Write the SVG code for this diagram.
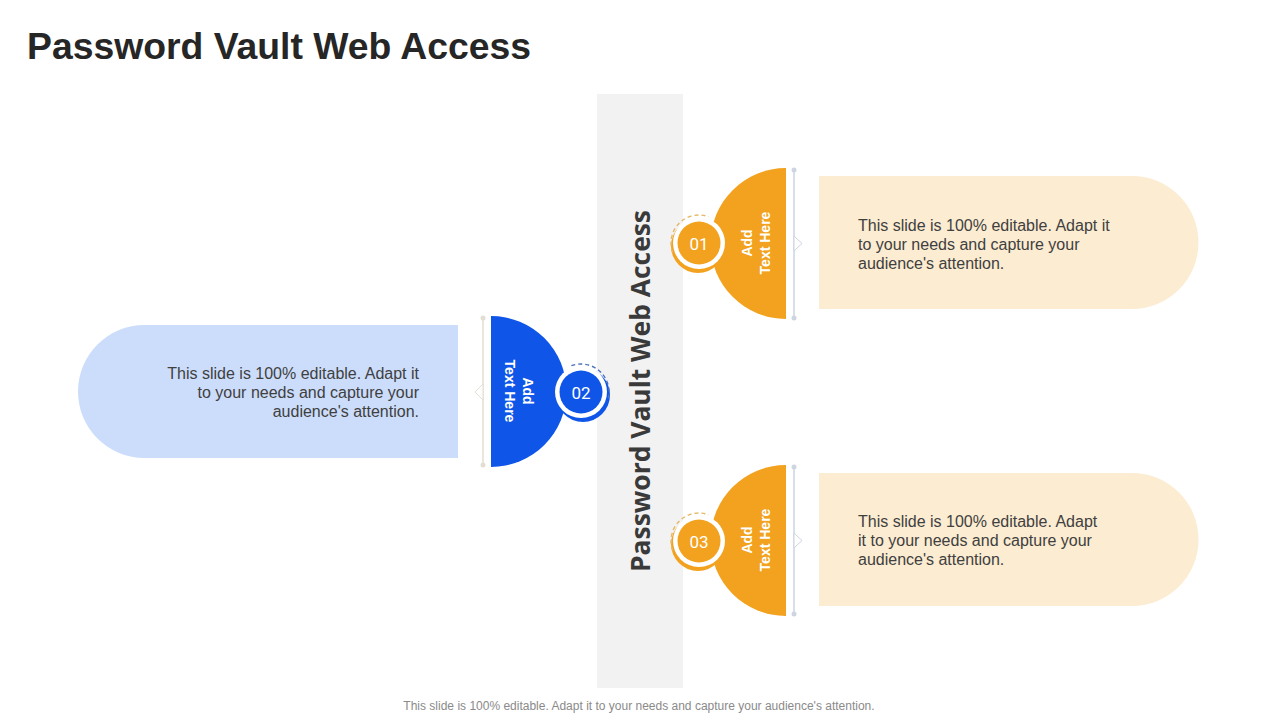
<svg xmlns="http://www.w3.org/2000/svg" width="1280" height="720" viewBox="0 0 1280 720">
<style>
.title{font-family:"Liberation Sans",Arial,sans-serif;font-weight:bold;font-size:37px;fill:#262626}
.body{font-family:"Liberation Sans",Arial,sans-serif;font-size:16px;fill:#404040}
.lbl{font-family:"Liberation Sans",Arial,sans-serif;font-weight:bold;font-size:14px;fill:#ffffff;text-anchor:middle}
.num{font-family:Roboto,"Liberation Sans",sans-serif;font-size:17px;fill:#ffffff;text-anchor:middle}
.foot{font-family:"Liberation Sans",Arial,sans-serif;font-size:12px;fill:#8a8a8a;text-anchor:middle}
.vt{font-family:"Open Sans","Liberation Sans",sans-serif;font-weight:bold;font-size:26px;fill:#3a3a3a;text-anchor:middle}
.or{fill:#F2A21F}
.bl{fill:#0F56E8}
.orbox{fill:#FCECD1}
.blbox{fill:#CCDDFB}
.lineo{stroke:#CDD5E2;stroke-width:1.5;fill:none}
.lineb{stroke:#E2DED2;stroke-width:1.5;fill:none}
.dash-o{fill:none;stroke:#E5B866;stroke-width:1.4;stroke-dasharray:4 3}
.dash-b{fill:none;stroke:#4A70BE;stroke-width:1.4;stroke-dasharray:4 3}
</style>

<rect width="1280" height="720" fill="#ffffff"/>
<text class="title" x="27" y="59" textLength="504" lengthAdjust="spacingAndGlyphs">Password Vault Web Access</text>

<g id="center-bar">
  <rect x="597" y="94" width="86" height="594" fill="#F2F2F2"/>
  <text class="vt" transform="translate(650,391) rotate(-90)" x="0" y="0" textLength="362" lengthAdjust="spacingAndGlyphs">Password Vault Web Access</text>
</g>

<g id="connectors">
  <!-- item 1 -->
  <line class="lineo" x1="794" y1="170" x2="794" y2="318"/>
  <circle cx="794" cy="170" r="2.5" fill="#CDD5E2"/>
  <circle cx="794" cy="318" r="2.5" fill="#CDD5E2"/>
  <polygon points="794,236 802,243.5 794,251" fill="#ffffff" stroke="#CDD5E2" stroke-width="1"/>
  <!-- item 2 -->
  <line class="lineb" x1="483" y1="318" x2="483" y2="465"/>
  <circle cx="483" cy="318" r="2.5" fill="#E2DED2"/>
  <circle cx="483" cy="465" r="2.5" fill="#E2DED2"/>
  <polygon points="483,384 475,392 483,400" fill="#ffffff" stroke="#E2DED2" stroke-width="1"/>
  <!-- item 3 -->
  <line class="lineo" x1="794" y1="467" x2="794" y2="614"/>
  <circle cx="794" cy="467" r="2.5" fill="#CDD5E2"/>
  <circle cx="794" cy="614" r="2.5" fill="#CDD5E2"/>
  <polygon points="794,533 802,540.5 794,548" fill="#ffffff" stroke="#CDD5E2" stroke-width="1"/>
</g>

<g id="item-01">
  <path class="orbox" d="M819,176 H1132 A66.5,66.5 0 0 1 1132,309 H819 Z"/>
  <path class="or" d="M786,168 A75.5,75.5 0 0 0 786,319 Z"/>
  <circle class="or" cx="698" cy="246" r="27"/>
  <circle cx="699" cy="243" r="26" fill="#ffffff"/>
  <circle class="or" cx="699" cy="243" r="21.5"/>
  <path class="dash-o" d="M672.7,252.6 A28,28 0 0 1 708.6,216.7"/>
  <text class="num" x="699" y="249.5">01</text>
  <g transform="translate(752,243) rotate(-90)">
    <text class="lbl" x="0" y="0">Add</text>
    <text class="lbl" x="0" y="18">Text Here</text>
  </g>
  <text class="body" x="858" y="231">This slide is 100% editable. Adapt it</text>
  <text class="body" x="858" y="250">to your needs and capture your</text>
  <text class="body" x="858" y="269">audience's attention.</text>
</g>

<g id="item-02">
  <path class="blbox" d="M458,325 H144.5 A66.5,66.5 0 0 0 144.5,458 H458 Z"/>
  <path class="bl" d="M491,316 A75.5,75.5 0 0 1 491,467 Z"/>
  <circle class="bl" cx="583" cy="395" r="27"/>
  <circle cx="581" cy="392" r="26" fill="#ffffff"/>
  <circle class="bl" cx="581" cy="392" r="21.5"/>
  <path class="dash-b" d="M571.4,365.7 A28,28 0 0 1 607.3,401.6"/>
  <text class="num" x="581" y="398.5">02</text>
  <g transform="translate(523,391) rotate(90)">
    <text class="lbl" x="0" y="0">Add</text>
    <text class="lbl" x="0" y="18">Text Here</text>
  </g>
  <text class="body" x="419" y="379" text-anchor="end">This slide is 100% editable. Adapt it</text>
  <text class="body" x="419" y="398" text-anchor="end">to your needs and capture your</text>
  <text class="body" x="419" y="417" text-anchor="end">audience's attention.</text>
</g>

<g id="item-03">
  <path class="orbox" d="M819,473 H1132 A66.5,66.5 0 0 1 1132,606 H819 Z"/>
  <path class="or" d="M786,465 A75.5,75.5 0 0 0 786,616 Z"/>
  <circle class="or" cx="698" cy="544" r="27"/>
  <circle cx="699" cy="541" r="26" fill="#ffffff"/>
  <circle class="or" cx="699" cy="541" r="21.5"/>
  <path class="dash-o" d="M672.7,550.6 A28,28 0 0 1 708.6,514.7"/>
  <text class="num" x="699" y="547.5">03</text>
  <g transform="translate(752,540) rotate(-90)">
    <text class="lbl" x="0" y="0">Add</text>
    <text class="lbl" x="0" y="18">Text Here</text>
  </g>
  <text class="body" x="858" y="527">This slide is 100% editable. Adapt</text>
  <text class="body" x="858" y="546">it to your needs and capture your</text>
  <text class="body" x="858" y="565">audience's attention.</text>
</g>

<text class="foot" x="639" y="710">This slide is 100% editable. Adapt it to your needs and capture your audience's attention.</text>
</svg>
